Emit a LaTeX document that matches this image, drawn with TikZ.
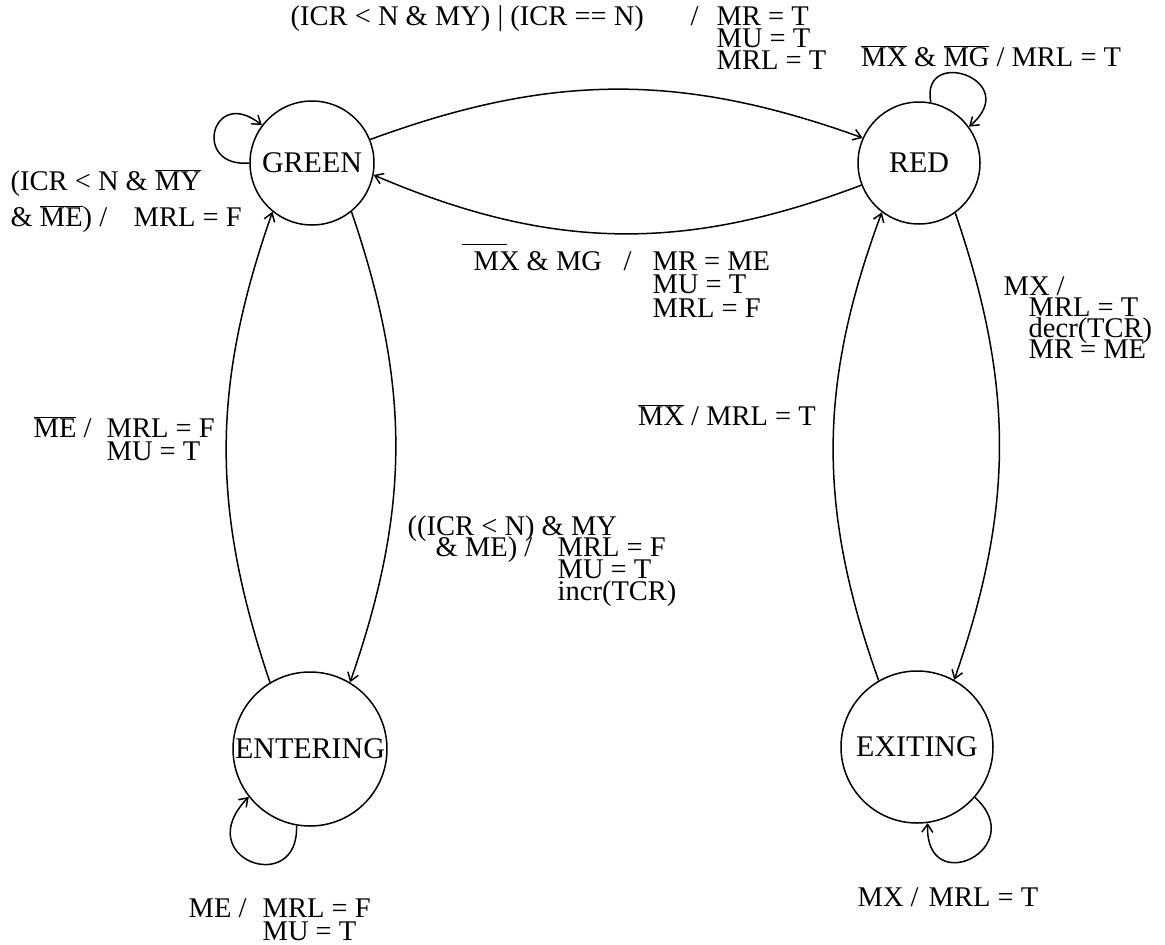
\documentclass[tikz,border=0pt]{standalone}
\usepackage{fontspec}
\setmainfont{Liberation Serif}
\usetikzlibrary{arrows.meta}
\newcommand\ovl[1]{$\overline{\mbox{#1}}$}
\newcommand\putat[3]{\makebox[0pt][l]{\hspace*{#1}\raisebox{-#2}{#3}}}
\begin{document}
\begin{tikzpicture}[x=1pt,y=-1pt,
  state/.style={draw, circle, line width=1.5pt, inner sep=0pt, font=\fontsize{30}{32}\selectfont},
  lbl/.style={inner sep=0pt, anchor=base west, font=\fontsize{28.5}{22}\selectfont},
  tr/.style={line width=1.5pt, -{Straight Barb[length=8pt,width=11pt]}}]
\useasboundingbox (0,0) rectangle (1165,945);
\node[state, minimum size=124pt] (G) at (312,163) {GREEN};
\node[state, minimum size=122pt] (R) at (919,163) {RED};
\node[state, minimum size=154pt] (E) at (310,749) {ENTERING};
\node[state, minimum size=152pt] (X) at (917,747) {EXITING};

\draw[tr] (G.22) to[bend left=20] (R.156);
\draw[tr] (R.201) to[bend left=22] (G.349);
\draw[tr] (G.-51) to[bend left=19] (E.59);
\draw[tr] (E.121) to[bend left=19] (G.231);
\draw[tr] (R.-54) to[bend left=19] (X.61);
\draw[tr] (X.120) to[bend left=20] (R.233);

\draw[tr] (G.180) .. controls +(-58,5) and +(-50,-40) .. (G.143);
\draw[tr] (R.79) .. controls +(-11,-57) and +(55,-47) .. (R.36);
\draw[tr] (E.260) .. controls +(3,72) and +(-60,62) .. (E.218);
\draw[tr] (X.-41) .. controls +(56,51) and +(-3,77) .. (X.-82);

\node[lbl] (lA) at (290,25) {\putat{0pt}{0pt}{(ICR < N \& MY) | (ICR == N)}\putat{400pt}{0pt}{/}\putat{426pt}{0pt}{MR = T}\putat{426pt}{22pt}{MU = T}\putat{426pt}{44pt}{MRL = T}};
\node[lbl] (lB) at (10,190) {\putat{0pt}{0pt}{(ICR < N \& \ovl{MY}}\putat{0pt}{36pt}{\& \ovl{ME}) /}\putat{123pt}{36pt}{MRL = F}};
\node[lbl] (lC) at (473,270) {\putat{-12pt}{0pt}{\rule[25pt]{45pt}{1.2pt}}\putat{0pt}{0pt}{MX \& MG}\putat{150pt}{0pt}{/}\putat{179pt}{0pt}{MR = ME}\putat{179pt}{23pt}{MU = T}\putat{179pt}{47pt}{MRL = F}};
\node[lbl] (lD) at (1003,295) {\putat{0pt}{0pt}{MX /}\putat{25pt}{21pt}{MRL = T}\putat{25pt}{42pt}{decr(TCR)}\putat{25pt}{63pt}{MR = ME}};
\node[lbl] (lE) at (638,425) {\ovl{MX} / MRL = T};
\node[lbl] (lF) at (33,437) {\putat{0pt}{0pt}{\ovl{ME} /}\putat{73pt}{0pt}{MRL = F}\putat{73pt}{23pt}{MU = T}};
\node[lbl] (lG) at (407,535) {\putat{0pt}{0pt}{((ICR < N) \& MY}\putat{28pt}{21pt}{\& ME) /}\putat{150pt}{21pt}{MRL = F}\putat{150pt}{43pt}{MU = T}\putat{150pt}{65pt}{incr(TCR)}};
\node[lbl] (lH) at (188,917) {\putat{0pt}{0pt}{ME /}\putat{74pt}{0pt}{MRL = F}\putat{74pt}{23pt}{MU = T}};
\node[lbl] (lI) at (857,906) {\putat{0pt}{0pt}{MX /}\putat{71pt}{0pt}{MRL = T}};
\node[lbl] (lJ) at (861,66) {\ovl{MX} \& \ovl{MG} / MRL = T};
\end{tikzpicture}
\end{document}
